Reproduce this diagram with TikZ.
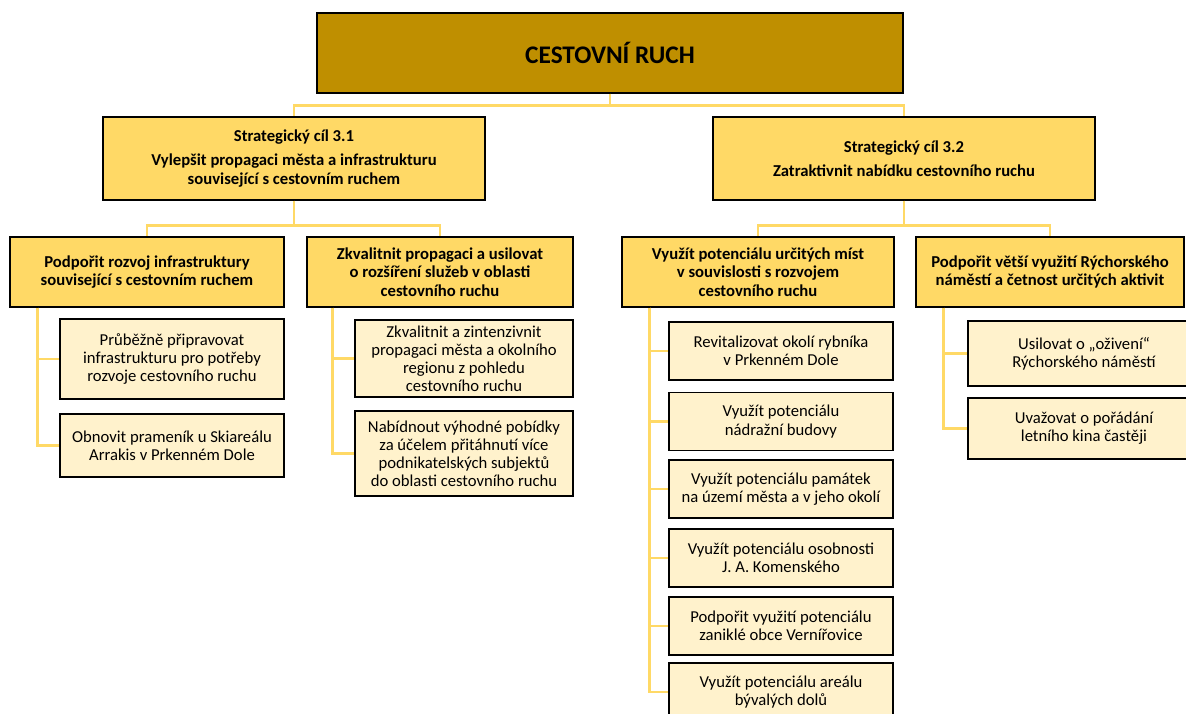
\documentclass[tikz,border=0pt]{standalone}
\usepackage{fontspec}
\setmainfont{Carlito}
\definecolor{topgold}{HTML}{BF8F00}
\definecolor{goalgold}{HTML}{FFD966}
\definecolor{taskcream}{HTML}{FFF2CC}
\definecolor{linkgold}{HTML}{FFD966}

\begin{document}
\begin{tikzpicture}[
    x=0.75pt, y=-0.75pt,
    font=\fontsize{12.5}{13.6}\selectfont,
    box_size/.style 2 args={minimum width=#1*0.75pt, minimum height=#2*0.75pt},
    mainbox/.style={rectangle, draw, line width=1.1pt, fill=topgold, inner sep=0pt, font=\fontsize{19}{22}\selectfont\bfseries},
    goalbox/.style={rectangle, draw, line width=1.1pt, fill=goalgold, inner sep=0pt, align=center, font=\fontsize{12.5}{13.8}\selectfont\bfseries},
    taskbox/.style={rectangle, draw, line width=1.1pt, fill=taskcream, inner sep=0pt, align=center},
    link/.style={draw=linkgold, line width=2.2pt}
]

\useasboundingbox (0,0) rectangle (1186,714);

% Top level
\node[mainbox, box_size={586}{80}] (ruch) at (610,53) {CESTOVNÍ RUCH};

% Strategic goals
\node[goalbox, box_size={382}{83}] (goal1) at (294,158.5)
    {Strategický cíl 3.1\\[4pt] Vylepšit propagaci města a infrastrukturu\\ související s cestovním ruchem};
\node[goalbox, box_size={382}{83}] (goal2) at (904,158.5)
    {Strategický cíl 3.2\\[4pt] Zatraktivnit nabídku cestovního ruchu};

\draw[link] (ruch.south) -- ++(0,12) -| (goal1.north);
\draw[link] (ruch.south) -- ++(0,12) -| (goal2.north);

% Specific aims
\node[goalbox, box_size={274}{70}] (aim1) at (147,272)
    {Podpořit rozvoj infrastruktury\\ související s cestovním ruchem};
\node[goalbox, box_size={266}{70}] (aim2) at (440,272)
    {Zkvalitnit propagaci a usilovat\\ o rozšíření služeb v oblasti\\ cestovního ruchu};
\node[goalbox, box_size={272}{70}] (aim3) at (758,272)
    {Využít potenciálu určitých míst\\ v souvislosti s rozvojem\\ cestovního ruchu};
\node[goalbox, box_size={268}{70}] (aim4) at (1050,272)
    {Podpořit větší využití Rýchorského\\ náměstí a četnost určitých aktivit};

\draw[link] (goal1.south) -- ++(0,25) -| (aim1.north);
\draw[link] (goal1.south) -- ++(0,25) -| (aim2.north);
\draw[link] (goal2.south) -- ++(0,25) -| (aim3.north);
\draw[link] (goal2.south) -- ++(0,25) -| (aim4.north);

% Tasks under aim 1
\node[taskbox, box_size={224}{80}] (task11) at (172,359)
    {Průběžně připravovat\\ infrastrukturu pro potřeby\\ rozvoje cestovního ruchu};
\node[taskbox, box_size={224}{63}] (task12) at (172,445.5)
    {Obnovit prameník u Skiareálu\\ Arrakis v Prkenném Dole};

% Tasks under aim 2
\node[taskbox, box_size={218}{77}] (task21) at (464,358.5)
    {Zkvalitnit a zintenzivnit\\ propagaci města a okolního\\ regionu z pohledu\\ cestovního ruchu};
\node[taskbox, box_size={218}{85}] (task22) at (464,453.5)
    {Nabídnout výhodné pobídky\\ za účelem přitáhnutí více\\ podnikatelských subjektů\\ do oblasti cestovního ruchu};

% Tasks under aim 4
\node[taskbox, box_size={232}{65}] (task41) at (1084,353.5)
    {Usilovat o „oživení“\\ Rýchorského náměstí};
\node[taskbox, box_size={232}{61}] (task42) at (1084,428.5)
    {Uvažovat o pořádání\\ letního kina častěji};

\foreach \t in {task11, task12}
    \draw[link] ([xshift=21pt]aim1.south west) |- (\t.west);
\foreach \t in {task21, task22}
    \draw[link] ([xshift=19.5pt]aim2.south west) |- (\t.west);
\foreach \t in {task41, task42}
    \draw[link] ([xshift=21pt]aim4.south west) |- (\t.west);

% Tasks under aim 3
\foreach \n/\yc/\txt in {
    1/351/{Revitalizovat okolí rybníka\\ v Prkenném Dole},
    2/421.5/{Využít potenciálu\\ nádražní budovy},
    3/489/{Využít potenciálu památek\\ na území města a v jeho okolí},
    4/558/{Využít potenciálu osobnosti\\ J. A. Komenského},
    5/626/{Podpořit využití potenciálu\\ zaniklé obce Vernířovice},
    6/692/{Využít potenciálu areálu\\ bývalých dolů}} {
    \node[taskbox, box_size={224}{58}] (task3\n) at (781,\yc) {\txt};
    \draw[link] ([xshift=21pt]aim3.south west) |- (task3\n.west);
}

\end{tikzpicture}
\end{document}
